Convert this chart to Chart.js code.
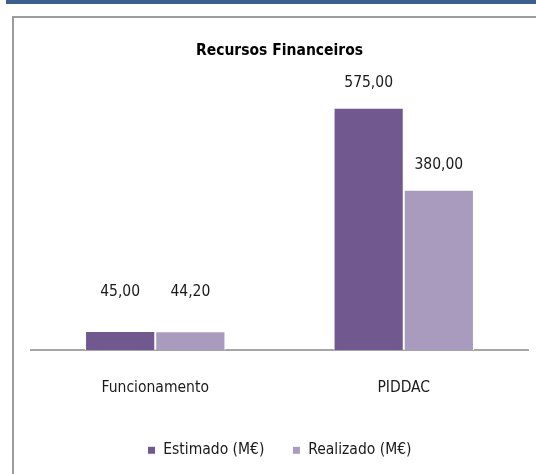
<!DOCTYPE html>
<html>
<head>
<meta charset="utf-8">
<script src="https://cdn.jsdelivr.net/npm/chart.js@4"></script>
<style>
  body { margin: 0; background: #fff; }
  #topbar { position: absolute; left: 6px; top: 0; width: 530px; height: 4px; background: #3b5e8c; }
  #frame { position: absolute; left: 12px; top: 16px; width: 524px; height: 458px;
           border-top: 2px solid #9c9c9c; border-left: 2px solid #9c9c9c; box-sizing: border-box; }
  #wrap { position: absolute; left: 14px; top: 18px; width: 522px; height: 456px; }
</style>
</head>
<body>
<div id="topbar"></div>
<div id="frame"></div>
<div id="wrap"><canvas id="chart" width="522" height="456"></canvas></div>
<script>
// chart data
const categories = ['Funcionamento', 'PIDDAC'];
const estimado = [45.00, 575.00];
const realizado = [44.20, 380.00];
const seriesNames = ['Estimado (M€)', 'Realizado (M€)'];

const FONT = '"Liberation Sans Narrow", "DejaVu Sans Condensed", sans-serif';

// value labels above bars, "45,00" style
const valueLabels = {
  id: 'valueLabels',
  afterDatasetsDraw(chart) {
    const ctx = chart.ctx;
    const base = chart.scales.y.getPixelForValue(0);
    ctx.save();
    ctx.font = '15.5px ' + FONT;
    ctx.fillStyle = '#1a1a1a';
    ctx.textAlign = 'center';
    ctx.textBaseline = 'middle';
    chart.data.datasets.forEach((ds, i) => {
      chart.getDatasetMeta(i).data.forEach((bar, j) => {
        const txt = ds.data[j].toFixed(2).replace('.', ',');
        const y = Math.min(bar.y - 25, base - 58);
        ctx.fillText(txt, bar.x, y);
      });
    });
    ctx.restore();
  }
};

const chart = new Chart(document.getElementById('chart'), {
  type: 'bar',
  data: {
    labels: categories,
    datasets: [
      { label: seriesNames[0], data: estimado, backgroundColor: '#71588f', borderColor: '#ffffff', borderWidth: 1 },
      { label: seriesNames[1], data: realizado, backgroundColor: '#a99bbd', borderColor: '#ffffff', borderWidth: 1 },
    ],
  },
  options: {
    responsive: false,
    animation: false,
    categoryPercentage: 0.565,
    barPercentage: 1,
    layout: { padding: { left: 17, right: 8, top: 0, bottom: 6 } },
    plugins: {
      title: {
        display: true,
        text: 'Recursos Financeiros',
        color: '#000',
        font: { family: FONT, size: 15.5, weight: 'bold' },
        padding: { top: 23.5, bottom: 37 },
      },
      legend: {
        position: 'bottom',
        labels: {
          color: '#1a1a1a',
          font: { family: FONT, size: 15.5 },
          boxWidth: 8,
          boxHeight: 8,
          padding: 28,
        },
      },
      tooltip: { enabled: false },
    },
    scales: {
      x: {
        grid: { display: false, drawTicks: false },
        border: { display: true, color: '#a6a6a6', width: 2 },
        ticks: { color: '#1a1a1a', font: { family: FONT, size: 15.5 }, padding: 28.5 },
        afterFit(scale) { scale.height = 64.5; },
      },
      y: { display: false, min: 0, max: 600 },
    },
  },
  plugins: [valueLabels],
});
</script>
</body>
</html>
